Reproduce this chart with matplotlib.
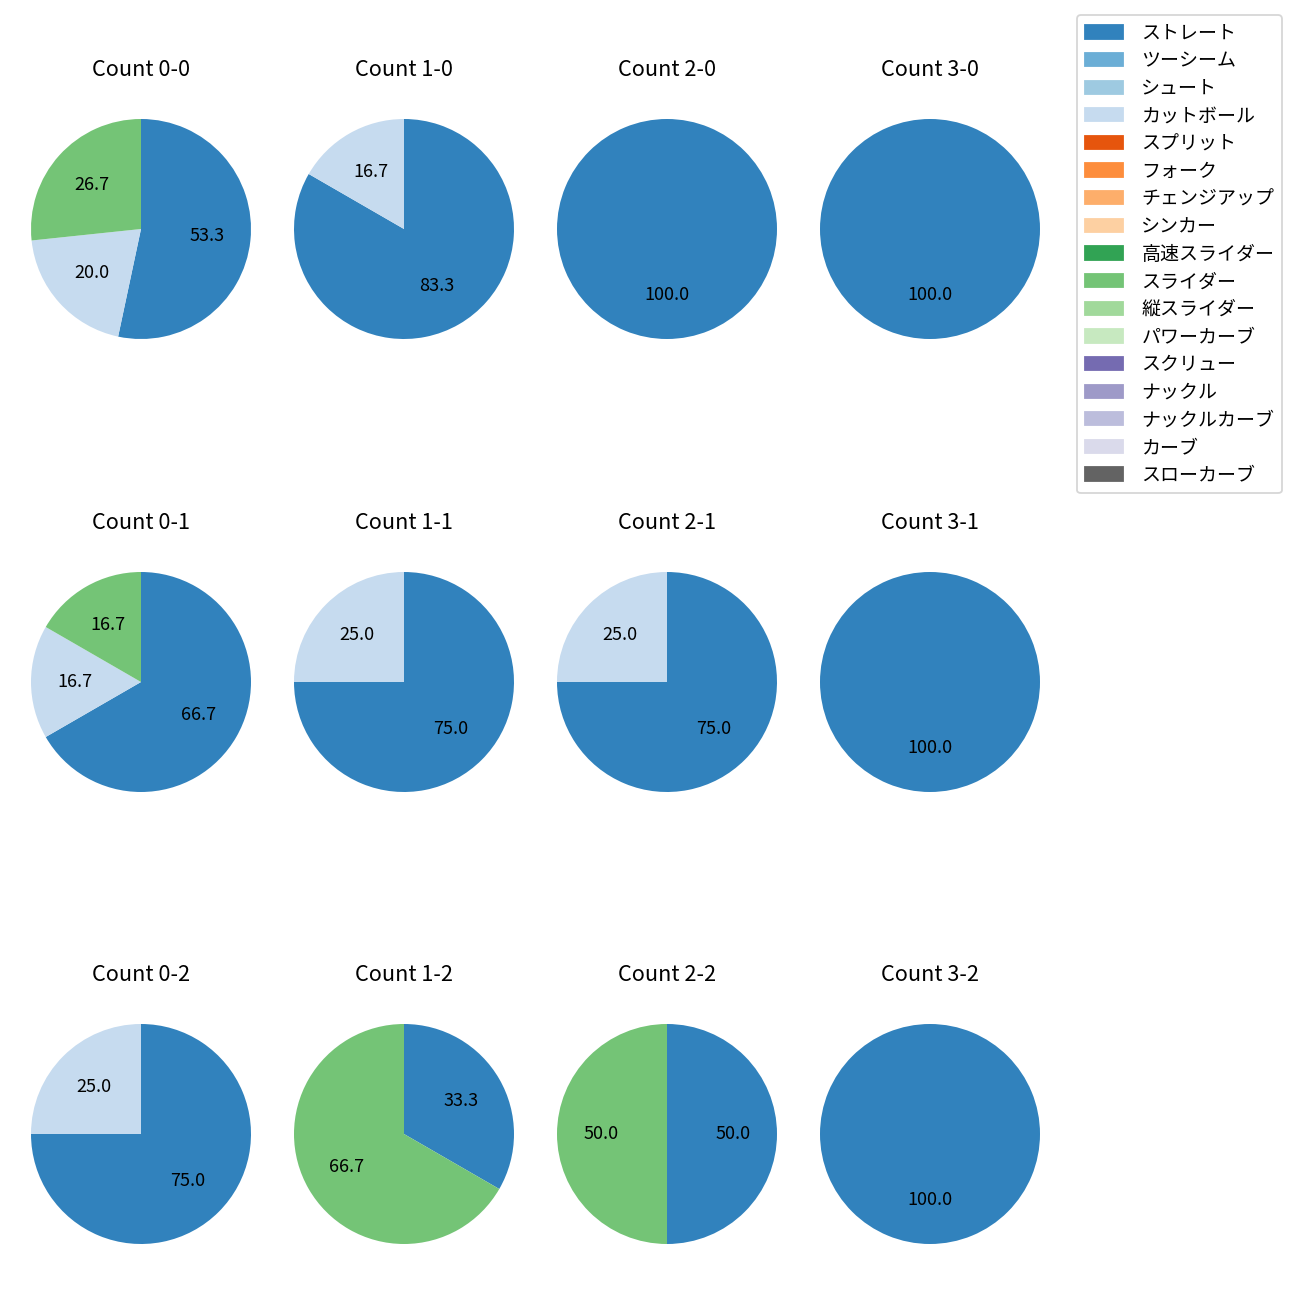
import matplotlib.pyplot as plt
import matplotlib.patches as mpatches

plt.rcParams['font.family'] = ['Noto Sans CJK JP', 'DejaVu Sans']

pitch_types = [
    "ストレート", "ツーシーム", "シュート", "カットボール", "スプリット", "フォーク",
    "チェンジアップ", "シンカー", "高速スライダー", "スライダー", "縦スライダー",
    "パワーカーブ", "スクリュー", "ナックル", "ナックルカーブ", "カーブ", "スローカーブ"
]

counts = ["0-0", "1-0", "2-0", "3-0", "0-1", "1-1", "2-1", "3-1", "0-2", "1-2", "2-2", "3-2"]

# カウント別の投球数
straight = [8, 5, 1, 1, 4, 3, 3, 1, 3, 1, 1, 1]
cutball = [3, 1, 0, 0, 1, 1, 1, 0, 1, 0, 0, 0]
slider = [4, 0, 0, 0, 1, 0, 0, 0, 0, 2, 1, 0]

cmap = plt.get_cmap("tab20c")
colors = [cmap(i) for i in range(len(pitch_types))]

fig = plt.figure(figsize=(10, 10), dpi=130)

col_x = [141, 404, 667, 930]
row_y = [229, 682, 1134]
size = 275 / 1300

for i, cnt in enumerate(counts):
    r, c = divmod(i, 4)
    cx = col_x[c] / 1300
    cy = 1 - row_y[r] / 1300
    ax = fig.add_axes([cx - size / 2, cy - size / 2, size, size])

    vals = []
    cols = []
    for v, idx in [(straight[i], 0), (cutball[i], 3), (slider[i], 9)]:
        if v > 0:
            vals.append(v)
            cols.append(colors[idx])

    ax.pie(vals, colors=cols, autopct="%.1f", startangle=90, counterclock=False)
    ax.set_title(f"Count {cnt}", pad=8.5)

handles = [mpatches.Patch(color=colors[k], label=pitch_types[k]) for k in range(len(pitch_types))]
fig.legend(handles=handles, loc="upper left", bbox_to_anchor=(1077 / 1300, 1 - 15 / 1300),
           borderaxespad=0, fontsize=10.5, handletextpad=1.0, labelspacing=0.35)

plt.savefig("out.png")
